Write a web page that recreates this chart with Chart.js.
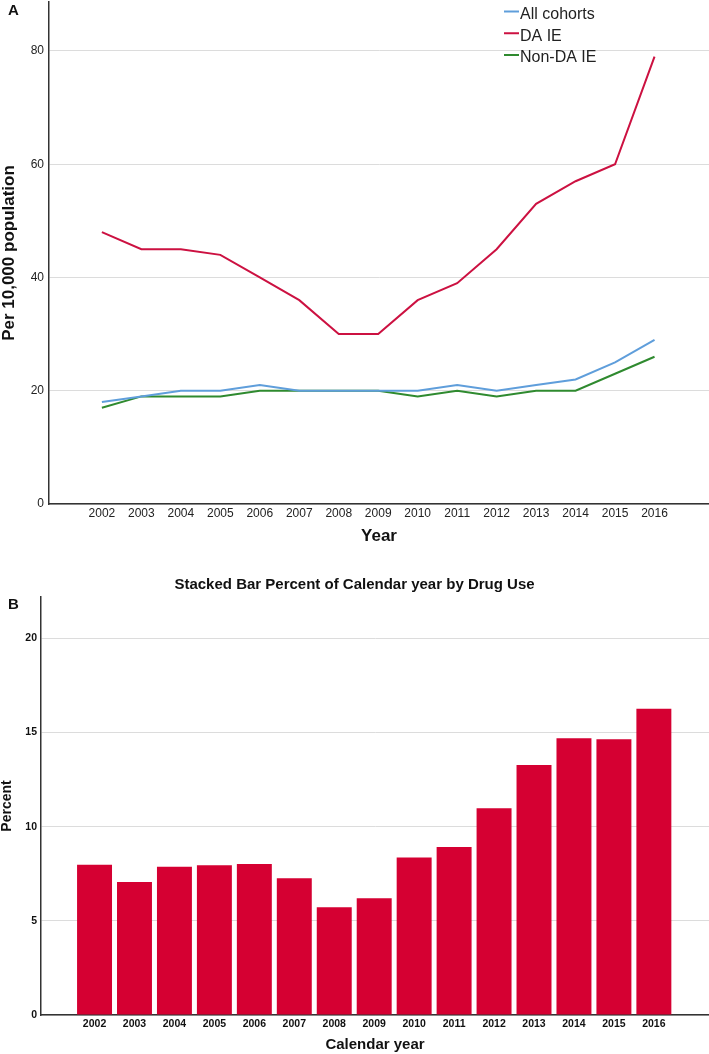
<!DOCTYPE html>
<html>
<head>
<meta charset="utf-8">
<script src="https://cdn.jsdelivr.net/npm/chart.js@4/dist/chart.umd.min.js"></script>
<style>
  html, body { margin: 0; padding: 0; background: #fff; }
  #wrap { position: relative; width: 709px; height: 1054px; }
  #rateChart { position: absolute; left: 0; top: 0; }
  #pctChart { position: absolute; left: 0; top: 550px; }
</style>
</head>
<body>
<div id="wrap">
  <canvas id="rateChart" width="709" height="550"></canvas>
  <canvas id="pctChart" width="709" height="504"></canvas>
</div>
<script>
const years = [2002, 2003, 2004, 2005, 2006, 2007, 2008, 2009, 2010, 2011, 2012, 2013, 2014, 2015, 2016];

// Panel A: per 10,000 population
const allCohorts = [18, 19, 20, 20, 21, 20, 20, 20, 20, 21, 20, 21, 22, 25, 29];
const daIE = [48, 45, 45, 44, 40, 36, 30, 30, 36, 39, 45, 53, 57, 60, 79];
const nonDaIE = [17, 19, 19, 19, 20, 20, 20, 20, 19, 20, 19, 20, 20, 23, 26];
const rateTicks = [0, 20, 40, 60, 80];

// Panel B: percent of calendar year
const drugUsePct = [7.98, 7.06, 7.88, 7.95, 8.02, 7.26, 5.72, 6.2, 8.37, 8.92, 10.98, 13.28, 14.7, 14.64, 16.27];
const pctTicks = [0, 5, 10, 15, 20];

Chart.defaults.font.family = '"Liberation Sans", Arial, sans-serif';
Chart.defaults.color = '#222';

const xMin = 2000.66;
const xMax = 2017.38;

function points(values) {
  return years.map((y, i) => ({ x: y, y: values[i] }));
}

function noPadding(scale) {
  scale.paddingTop = 0;
  scale.paddingBottom = 0;
  scale.paddingLeft = 0;
  scale.paddingRight = 0;
}

function panelLabel(text, x, y) {
  return {
    id: 'panelLabel',
    afterDraw(chart) {
      const ctx = chart.ctx;
      ctx.save();
      ctx.font = 'bold 15px "Liberation Sans", Arial, sans-serif';
      ctx.fillStyle = '#111';
      ctx.textAlign = 'center';
      ctx.textBaseline = 'middle';
      ctx.fillText(text, x, y);
      ctx.restore();
    }
  };
}

const sideLegend = {
  id: 'sideLegend',
  afterDraw(chart) {
    const ctx = chart.ctx;
    ctx.save();
    ctx.font = '16px "Liberation Sans", Arial, sans-serif';
    ctx.textBaseline = 'middle';
    ctx.textAlign = 'left';
    chart.data.datasets.forEach((ds, i) => {
      const y = 14.5 + i * 21.75;
      ctx.strokeStyle = ds.borderColor;
      ctx.lineWidth = 2;
      ctx.beginPath();
      ctx.moveTo(504, y - 3);
      ctx.lineTo(519, y - 3);
      ctx.stroke();
      ctx.fillStyle = '#222';
      ctx.fillText(ds.label, 520, y);
    });
    ctx.restore();
  }
};

new Chart(document.getElementById('rateChart'), {
  type: 'line',
  data: {
    datasets: [
      { label: 'All cohorts', data: points(allCohorts), borderColor: '#5f9edb' },
      { label: 'DA IE', data: points(daIE), borderColor: '#cc1141' },
      { label: 'Non-DA IE', data: points(nonDaIE), borderColor: '#2f8a2f' }
    ]
  },
  options: {
    responsive: false,
    animation: false,
    layout: { padding: { top: 2, right: 0, bottom: 0, left: 0 } },
    elements: {
      point: { radius: 0 },
      line: { borderWidth: 2, tension: 0, fill: false }
    },
    plugins: { legend: { display: false }, tooltip: { enabled: false } },
    scales: {
      x: {
        type: 'linear',
        min: xMin,
        max: xMax,
        afterBuildTicks: s => { s.ticks = years.map(v => ({ value: v })); },
        afterFit: s => { s.height = 46; noPadding(s); },
        grid: { display: false, drawTicks: false },
        border: { color: '#333', width: 1.5 },
        ticks: { padding: 2, autoSkip: false, maxRotation: 0, font: { size: 12 }, callback: v => String(v) },
        title: { display: true, text: 'Year', color: '#111', font: { size: 17, weight: 'bold' }, padding: { top: 0, bottom: 3 } }
      },
      y: {
        min: 0,
        max: 88.65,
        afterBuildTicks: s => { s.ticks = rateTicks.map(v => ({ value: v })); },
        afterFit: s => { s.width = 49; noPadding(s); },
        grid: { color: '#dcdcdc', drawTicks: false },
        border: { color: '#333', width: 1.5 },
        ticks: { padding: 5, font: { size: 12 } },
        title: { display: true, text: 'Per 10,000 population', color: '#111', font: { size: 17, weight: 'bold', lineHeight: 1.05 }, padding: { top: 0 } }
      }
    }
  },
  plugins: [sideLegend, panelLabel('A', 13.5, 11)]
});

new Chart(document.getElementById('pctChart'), {
  type: 'bar',
  data: {
    datasets: [
      { label: 'Drug use', data: points(drugUsePct), backgroundColor: '#d50032', borderWidth: 0 }
    ]
  },
  options: {
    responsive: false,
    animation: false,
    layout: { padding: 0 },
    categoryPercentage: 0.875,
    barPercentage: 1,
    plugins: {
      legend: { display: false },
      tooltip: { enabled: false },
      title: {
        display: true,
        text: 'Stacked Bar Percent of Calendar year by Drug Use',
        color: '#111',
        font: { size: 15, weight: 'bold' },
        padding: { top: 26, bottom: 3 }
      }
    },
    scales: {
      x: {
        type: 'linear',
        min: xMin,
        max: xMax,
        offset: false,
        afterBuildTicks: s => { s.ticks = years.map(v => ({ value: v })); },
        afterFit: s => { s.height = 39; noPadding(s); },
        grid: { display: false, drawTicks: false, offset: false },
        border: { color: '#333', width: 1.5 },
        ticks: { padding: 3, autoSkip: false, maxRotation: 0, color: '#111', font: { size: 10.5, weight: 'bold' }, callback: v => String(v) },
        title: { display: true, text: 'Calendar year', color: '#111', font: { size: 15, weight: 'bold' }, padding: { top: 0, bottom: 0 } }
      },
      y: {
        min: 0,
        max: 22.2,
        afterBuildTicks: s => { s.ticks = pctTicks.map(v => ({ value: v })); },
        afterFit: s => { s.width = 41; noPadding(s); },
        grid: { color: '#dcdcdc', drawTicks: false },
        border: { color: '#333', width: 1.5 },
        ticks: { padding: 4, color: '#111', font: { size: 10.5, weight: 'bold' } },
        title: { display: true, text: 'Percent', color: '#111', font: { size: 14, weight: 'bold', lineHeight: 1.05 }, padding: { top: 0 } }
      }
    }
  },
  plugins: [panelLabel('B', 13.5, 55)]
});
</script>
</body>
</html>
